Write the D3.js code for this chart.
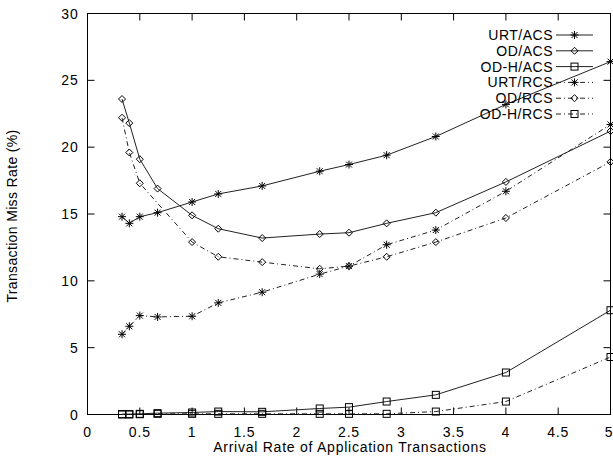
<!DOCTYPE html>
<html>
<head>
<meta charset="utf-8">
<script src="https://cdn.jsdelivr.net/npm/d3@7"></script>
<style>
  body { margin: 0; background: #fff; }
  text { font-family: "Liberation Sans", Arial, Helvetica, sans-serif; fill: #000; }
</style>
</head>
<body>
<div id="chart"></div>
<script>
// arrival rates (x axis)
const rates = [0.33, 0.4, 0.5, 0.67, 1, 1.25, 1.67, 2.22, 2.5, 2.86, 3.33, 4, 5]

// miss rates (%) per scheme, null = no point
const urtAcs = [14.8, 14.3, 14.8, 15.1, 15.9, 16.5, 17.1, 18.2, 18.7, 19.4, 20.8, 23.2, 26.4]
const odAcs = [23.6, 21.8, 19.1, 16.9, 14.9, 13.9, 13.2, 13.5, 13.6, 14.3, 15.1, 17.4, 21.2]
const odhAcs = [0.03, 0.03, 0.05, 0.1, 0.15, 0.22, 0.2, 0.45, 0.55, 0.97, 1.47, 3.14, 7.8]
const urtRcs = [6.0, 6.6, 7.4, 7.3, 7.35, 8.35, 9.15, 10.5, 11.1, 12.7, 13.8, 16.7, 21.7]
const odRcs = [22.2, 19.6, 17.3, null, 12.9, 11.8, 11.4, 10.9, 11.1, 11.8, 12.9, 14.7, 18.9]
const odhRcs = [0, 0, 0.02, 0.05, 0.05, 0.05, 0.05, 0.05, 0.05, 0.05, 0.22, 0.97, 4.3]

const seriesNames = ["URT/ACS", "OD/ACS", "OD-H/ACS", "URT/RCS", "OD/RCS", "OD-H/RCS"]
const seriesValues = [urtAcs, odAcs, odhAcs, urtRcs, odRcs, odhRcs]
const seriesMarks = ["star", "diamond", "square", "star", "diamond", "square"]

const xTicks = d3.range(0, 5.01, 0.5)
const yTicks = d3.range(0, 31, 5)

const W = 613, H = 466
const margin = { top: 13.5, right: 2.5, bottom: 51.5, left: 87.5 }

const svg = d3.select("#chart").append("svg")
    .attr("width", W)
    .attr("height", H)

const x = d3.scaleLinear().domain([0, 5]).range([margin.left, W - margin.right])
const y = d3.scaleLinear().domain([0, 30]).range([H - margin.bottom, margin.top])

const tickLen = 7

// frame
svg.append("rect")
    .attr("x", x(0)).attr("y", y(30))
    .attr("width", x(5) - x(0)).attr("height", y(0) - y(30))
    .attr("fill", "none").attr("stroke", "#000").attr("stroke-width", 1)

// inward ticks on all four sides
const ticks = svg.append("g").attr("stroke", "#000").attr("stroke-width", 1)
xTicks.forEach(t => {
    ticks.append("line").attr("x1", x(t)).attr("x2", x(t)).attr("y1", y(0)).attr("y2", y(0) - tickLen)
    ticks.append("line").attr("x1", x(t)).attr("x2", x(t)).attr("y1", y(30)).attr("y2", y(30) + tickLen)
})
yTicks.forEach(t => {
    ticks.append("line").attr("x1", x(0)).attr("x2", x(0) + tickLen).attr("y1", y(t)).attr("y2", y(t))
    ticks.append("line").attr("x1", x(5)).attr("x2", x(5) - tickLen).attr("y1", y(t)).attr("y2", y(t))
})

// tick labels (last one kept inside the page edge)
svg.append("g").selectAll("text")
    .data(xTicks).enter().append("text")
    .attr("x", d => d === 5 ? W - 0.5 : x(d))
    .attr("y", y(0) + 22)
    .attr("text-anchor", d => d === 5 ? "end" : "middle")
    .style("font-size", "14px")
    .style("letter-spacing", d => d === 5 ? null : "0.8px")
    .text(d => d3.format("~g")(d))

svg.append("g").selectAll("text")
    .data(yTicks).enter().append("text")
    .attr("x", x(0) - 9)
    .attr("y", d => y(d) + 5)
    .attr("text-anchor", "end")
    .style("font-size", "14px")
    .style("letter-spacing", "0.8px")
    .text(d => d)

// axis titles
svg.append("text")
    .attr("x", (x(0) + x(5)) / 2 + 1)
    .attr("y", 452)
    .attr("text-anchor", "middle")
    .style("font-size", "14px")
    .style("letter-spacing", "0.75px")
    .text("Arrival Rate of Application Transactions")

svg.append("text")
    .attr("transform", "translate(17," + (y(15) + 2) + ") rotate(-90)")
    .attr("text-anchor", "middle")
    .style("font-size", "14px")
    .style("letter-spacing", "0.35px")
    .text("Transaction Miss Rate (%)")

// markers
function marker(g, type, cx, cy) {
    if (type === "star") {
        const r = 4
        g.append("path")
            .attr("d", `M${cx - r},${cy}H${cx + r}M${cx},${cy - r}V${cy + r}` +
                `M${cx - r * 0.75},${cy - r * 0.75}L${cx + r * 0.75},${cy + r * 0.75}` +
                `M${cx - r * 0.75},${cy + r * 0.75}L${cx + r * 0.75},${cy - r * 0.75}`)
            .attr("stroke", "#000").attr("stroke-width", 1).attr("fill", "none")
    } else if (type === "diamond") {
        const r = 3.5
        g.append("path")
            .attr("d", `M${cx},${cy - r}L${cx + r},${cy}L${cx},${cy + r}L${cx - r},${cy}Z`)
            .attr("stroke", "#000").attr("stroke-width", 1).attr("fill", "none")
    } else {
        const r = 3.5
        g.append("rect")
            .attr("x", cx - r).attr("y", cy - r).attr("width", 2 * r).attr("height", 2 * r)
            .attr("stroke", "#000").attr("stroke-width", 1).attr("fill", "none")
    }
}

const line = d3.line()
    .x(d => x(d[0]))
    .y(d => y(d[1]))

const dashRcs = "5,3,1,3"

seriesNames.forEach((name, i) => {
    const pts = rates.map((r, j) => [r, seriesValues[i][j]]).filter(p => p[1] !== null)
    const g = svg.append("g")
    g.append("path")
        .attr("d", line(pts))
        .attr("fill", "none")
        .attr("stroke", "#222")
        .attr("stroke-width", 1)
        .attr("stroke-dasharray", name.endsWith("RCS") ? dashRcs : null)
    pts.forEach(p => marker(g, seriesMarks[i], x(p[0]), y(p[1])))
})

// legend
const legend = svg.append("g")
seriesNames.forEach((name, i) => {
    const ly = 35 + i * 15.8
    legend.append("text")
        .attr("x", 553)
        .attr("y", ly + 5)
        .attr("text-anchor", "end")
        .style("font-size", "14px")
        .style("letter-spacing", "0.5px")
        .text(name)
    legend.append("line")
        .attr("x1", 556).attr("x2", 593)
        .attr("y1", ly).attr("y2", ly)
        .attr("stroke", "#222").attr("stroke-width", 1)
        .attr("stroke-dasharray", name.endsWith("RCS") ? dashRcs : null)
    marker(legend, seriesMarks[i], 574.5, ly)
})
</script>
</body>
</html>
